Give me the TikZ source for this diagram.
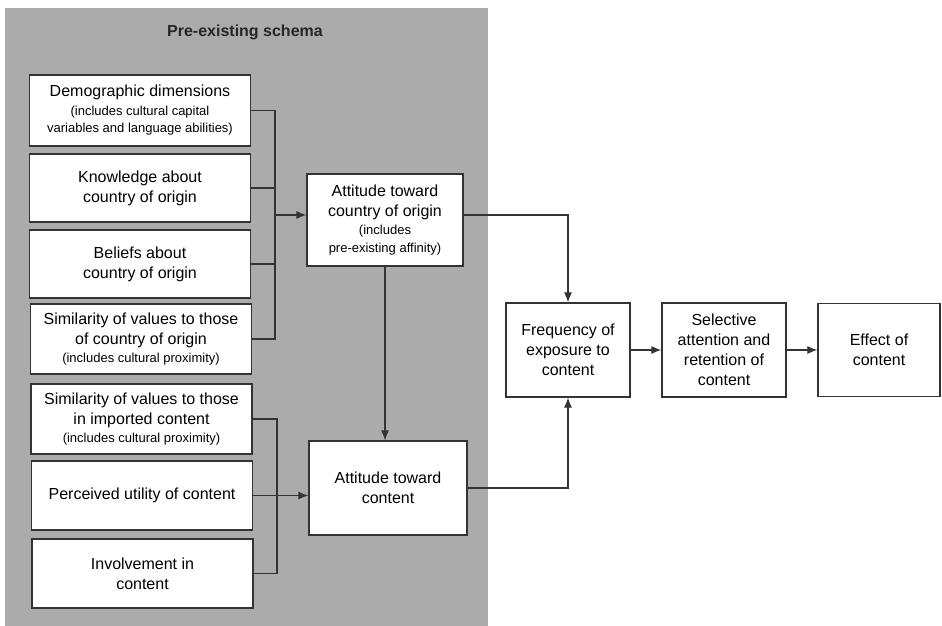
\documentclass[tikz,border=0pt]{standalone}
\usepackage{fontspec}
\setmainfont{Liberation Sans}
\usetikzlibrary{arrows.meta}

\newcommand{\sm}[1]{{\fontsize{13}{15}\selectfont #1}}

\begin{document}
\begin{tikzpicture}[x=1pt, y=-1pt,
  box/.style={draw=black!80, line width=1.3pt, fill=white, align=center, inner sep=1pt,
    font=\fontsize{16}{20}\selectfont},
  leftbox/.style={box, minimum width=221pt, minimum height=69pt},
  link/.style={draw=black!80, line width=1.1pt},
  arr/.style={link, -{Latex[length=10pt,width=8pt]}}]
\useasboundingbox (0,0) rectangle (942,626);
\fill[black!33] (5,8) rectangle (488,626);
\node[font=\bfseries\fontsize{16}{18}\selectfont, text=black!85] (title) at (245,32) {Pre-existing schema};
\node[leftbox, minimum height=71pt] (demo) at (140,110.5) {Demographic dimensions\\[-1pt]\sm{(includes cultural capital}\\[-3pt]\sm{variables and language abilities)}};
\node[leftbox, minimum height=68pt] (know) at (140,188) {Knowledge about\\country of origin};
\node[leftbox, minimum height=68pt] (belief) at (140,264) {Beliefs about\\country of origin};
\node[leftbox, minimum height=70pt] (simc) at (141,339) {Similarity of values to those\\of country of origin\\[-2pt]\sm{(includes cultural proximity)}};
\node[leftbox, minimum height=70pt] (simi) at (141.5,419) {Similarity of values to those\\in imported content\\[-2pt]\sm{(includes cultural proximity)}};
\node[leftbox] (perc) at (142,495.5) {Perceived utility of content};
\node[leftbox] (invol) at (142.5,573.5) {Involvement in\\content};
\node[box, minimum width=156pt, minimum height=92pt] (attc) at (385,220) {Attitude toward\\country of origin\\[-2pt]\sm{(includes}\\[-2pt]\sm{pre-existing affinity)}};
\node[box, minimum width=158pt, minimum height=94pt] (attn) at (388,488) {Attitude toward\\content};
\node[box, minimum width=124pt, minimum height=94pt] (freq) at (568,350) {Frequency of\\exposure to\\content};
\node[box, minimum width=124pt, minimum height=94pt] (sel) at (724,350) {Selective\\attention and\\retention of\\content};
\node[box, minimum width=122pt, minimum height=93pt] (eff) at (879,350) {Effect of\\content};
\coordinate (jA) at (275,215);
\coordinate (jB) at (277,496);
\draw[link] (demo.east) -| (jA);
\draw[link] (simc.east) -| (jA);
\draw[link] (know.east) -- (know.east -| jA);
\draw[link] (belief.east) -- (belief.east -| jA);
\draw[arr] (jA) -- (jA -| attc.west);
\draw[link] (simi.east) -| (jB);
\draw[link] (invol.east) -| (jB);
\draw[arr] (perc.east) -- (perc.east -| attn.west);
\draw[arr] (attc.south) -- (attc.south |- attn.north);
\draw[arr] (attc.east |- jA) -| (freq.north);
\draw[arr] (attn.east) -| (freq.south);
\draw[arr] (freq.east) -- (sel.west);
\draw[arr] (sel.east) -- (eff.west);
\end{tikzpicture}
\end{document}
